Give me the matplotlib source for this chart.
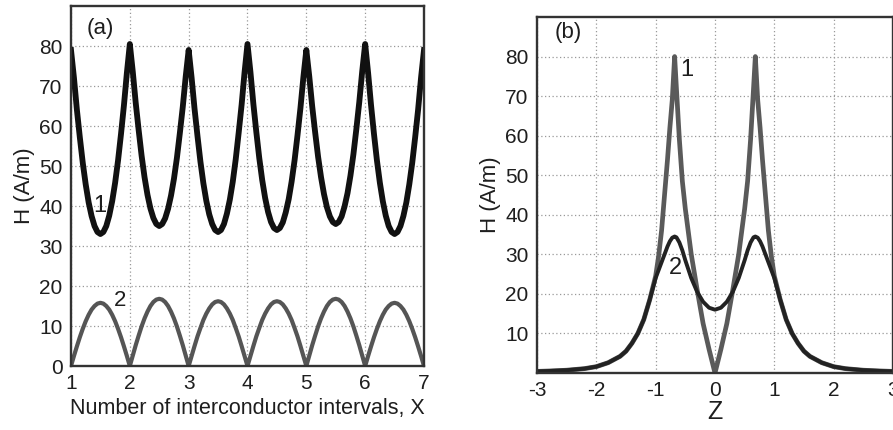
import numpy as np
import matplotlib.pyplot as plt

plt.rcParams['font.family'] = ['Liberation Sans', 'DejaVu Sans']
plt.rcParams['axes.unicode_minus'] = False

# (a) field along X, sampled every 0.05 interval from 1 to 7
x_a = np.linspace(1, 7, 121)
h1_a = [79.0, 72.1, 64.1, 57.2, 50.8, 45.4, 40.9, 37.5, 35.0, 33.5,
        33.0, 33.5, 35.0, 37.6, 41.2, 45.8, 51.4, 58.0, 65.2, 73.3,
        80.5, 73.6, 65.8, 59.0, 52.6, 47.2, 42.8, 39.4, 37.0, 35.5,
        35.0, 35.5, 36.9, 39.3, 42.6, 46.8, 52.0, 58.2, 64.8, 72.4,
        79.0, 72.1, 64.3, 57.5, 51.1, 45.7, 41.3, 37.9, 35.5, 34.0,
        33.5, 34.0, 35.5, 38.1, 41.6, 46.1, 51.7, 58.3, 65.3, 73.4,
        80.5, 73.5, 65.5, 58.5, 52.0, 46.5, 42.0, 38.5, 36.0, 34.5,
        34.0, 34.5, 35.9, 38.4, 41.7, 46.1, 51.4, 57.7, 64.5, 72.2,
        79.0, 72.4, 64.9, 58.4, 52.3, 47.2, 43.0, 39.7, 37.4, 36.0,
        35.5, 36.0, 37.4, 39.9, 43.2, 47.6, 52.9, 59.2, 66.0, 73.7,
        80.5, 73.3, 65.2, 58.0, 51.4, 45.8, 41.2, 37.6, 35.0, 33.5,
        33.0, 33.5, 35.0, 37.5, 40.9, 45.4, 50.8, 57.2, 64.1, 72.1,
        79.0]
h2_a = [0.0, 2.5, 4.9, 7.2, 9.3, 11.2, 12.8, 14.1, 15.0, 15.6,
        15.8, 15.6, 15.0, 14.1, 12.8, 11.2, 9.3, 7.2, 4.9, 2.5,
        0.0, 2.6, 5.2, 7.6, 9.9, 11.9, 13.6, 15.0, 16.0, 16.6,
        16.8, 16.6, 16.0, 15.0, 13.6, 11.9, 9.9, 7.6, 5.2, 2.6,
        0.0, 2.5, 5.0, 7.4, 9.5, 11.5, 13.1, 14.4, 15.4, 16.0,
        16.2, 16.0, 15.4, 14.4, 13.1, 11.5, 9.5, 7.4, 5.0, 2.5,
        0.0, 2.5, 5.0, 7.4, 9.5, 11.5, 13.1, 14.4, 15.4, 16.0,
        16.2, 16.0, 15.4, 14.4, 13.1, 11.5, 9.5, 7.4, 5.0, 2.5,
        0.0, 2.6, 5.2, 7.6, 9.9, 11.9, 13.6, 15.0, 16.0, 16.6,
        16.8, 16.6, 16.0, 15.0, 13.6, 11.9, 9.9, 7.6, 5.2, 2.6,
        0.0, 2.5, 4.9, 7.2, 9.3, 11.2, 12.8, 14.1, 15.0, 15.6,
        15.8, 15.6, 15.0, 14.1, 12.8, 11.2, 9.3, 7.2, 4.9, 2.5,
        0.0]

# (b) field along Z
z_b = [-3.0, -2.8, -2.5, -2.2, -2.0, -1.8, -1.6, -1.5, -1.4, -1.3, -1.2, -1.1,
       -1.0, -0.95, -0.9, -0.85, -0.8, -0.76, -0.72, -0.68, -0.65, -0.6, -0.55,
       -0.5, -0.4, -0.3, -0.2, -0.1, 0.0,
       0.1, 0.2, 0.3, 0.4, 0.5, 0.55, 0.6, 0.65, 0.68, 0.72, 0.76, 0.8, 0.85,
       0.9, 0.95, 1.0, 1.1, 1.2, 1.3, 1.4, 1.5, 1.6, 1.8, 2.0, 2.2, 2.5, 2.8, 3.0]
h1_b = [0.4, 0.5, 0.7, 1.1, 1.6, 2.6, 4.2, 5.5, 7.5, 10.0, 13.5, 18.5,
        24.5, 29.5, 36.0, 45.0, 54.0, 62.0, 69.0, 80.0, 72.0, 59.0, 48.5,
        41.5, 30.0, 21.0, 12.5, 6.0, 0.0,
        6.0, 12.5, 21.0, 30.0, 41.5, 48.5, 59.0, 72.0, 80.0, 69.0, 62.0, 54.0, 45.0,
        36.0, 29.5, 24.5, 18.5, 13.5, 10.0, 7.5, 5.5, 4.2, 2.6, 1.6, 1.1, 0.7, 0.5, 0.4]
h2_b = [0.4, 0.5, 0.7, 1.1, 1.6, 2.6, 4.2, 5.5, 7.5, 10.0, 13.5, 18.5,
        24.0, 26.0, 28.0, 30.0, 32.0, 33.3, 34.2, 34.5, 34.3, 33.0, 31.0,
        28.5, 24.0, 20.5, 18.0, 16.5, 16.0,
        16.5, 18.0, 20.5, 24.0, 28.5, 31.0, 33.0, 34.3, 34.5, 34.2, 33.3, 32.0, 30.0,
        28.0, 26.0, 24.0, 18.5, 13.5, 10.0, 7.5, 5.5, 4.2, 2.6, 1.6, 1.1, 0.7, 0.5, 0.4]

xticks_a = [1, 2, 3, 4, 5, 6, 7]
yticks_a = [0, 10, 20, 30, 40, 50, 60, 70, 80]
xticks_b = [-3, -2, -1, 0, 1, 2, 3]
yticks_b = [10, 20, 30, 40, 50, 60, 70, 80]

txt = "#1e1e1e"
fig = plt.figure(figsize=(8.93, 4.30), dpi=100)
ax1 = fig.add_axes([0.0795, 0.1488, 0.3953, 0.8372])
ax2 = fig.add_axes([0.6013, 0.1326, 0.3987, 0.8279])

for ax in (ax1, ax2):
    ax.grid(True, linestyle=(0, (1, 2)), color="#999999", linewidth=0.9)
    ax.tick_params(length=0, labelcolor=txt)
    ax.tick_params(axis="y", labelsize=15, pad=6)
    for s in ax.spines.values():
        s.set_linewidth(1.7)
        s.set_color("#333333")
    ax.set_ylabel("H (A/m)", fontsize=16, color=txt, labelpad=3)

# panel (a)
ax1.plot(x_a, h1_a, color="#111111", lw=4.2)
ax1.plot(x_a, h2_a, color="#555555", lw=3.0)
ax1.set_xlim(1, 7)
ax1.set_ylim(0, 90)
ax1.set_xticks(xticks_a)
ax1.set_yticks(yticks_a)
ax1.tick_params(axis="x", labelsize=15, pad=6)
ax1.set_xlabel("Number of interconductor intervals, X", fontsize=15.5, color=txt, labelpad=3)
ax1.text(1.49, 84.5, "(a)", fontsize=16, color=txt, ha="center", va="center")
ax1.text(1.49, 40, "1", fontsize=17, color=txt, ha="center", va="center")
ax1.text(1.83, 16.5, "2", fontsize=16, color=txt, ha="center", va="center")

# panel (b)
ax2.plot(z_b, h1_b, color="#5a5a5a", lw=3.4)
ax2.plot(z_b, h2_b, color="#222222", lw=2.8)
ax2.set_xlim(-3, 3)
ax2.set_ylim(0, 90)
ax2.set_xticks(xticks_b)
ax2.set_yticks(yticks_b)
ax2.tick_params(axis="x", labelsize=15, pad=6)
ax2.set_xlabel("Z", fontsize=18, color=txt, labelpad=0)
ax2.text(-2.48, 86, "(b)", fontsize=16, color=txt, ha="center", va="center")
ax2.text(-0.47, 76.5, "1", fontsize=17, color=txt, ha="center", va="center")
ax2.text(-0.67, 26.5, "2", fontsize=17, color=txt, ha="center", va="center")

fig.savefig("out.png", dpi=100)
